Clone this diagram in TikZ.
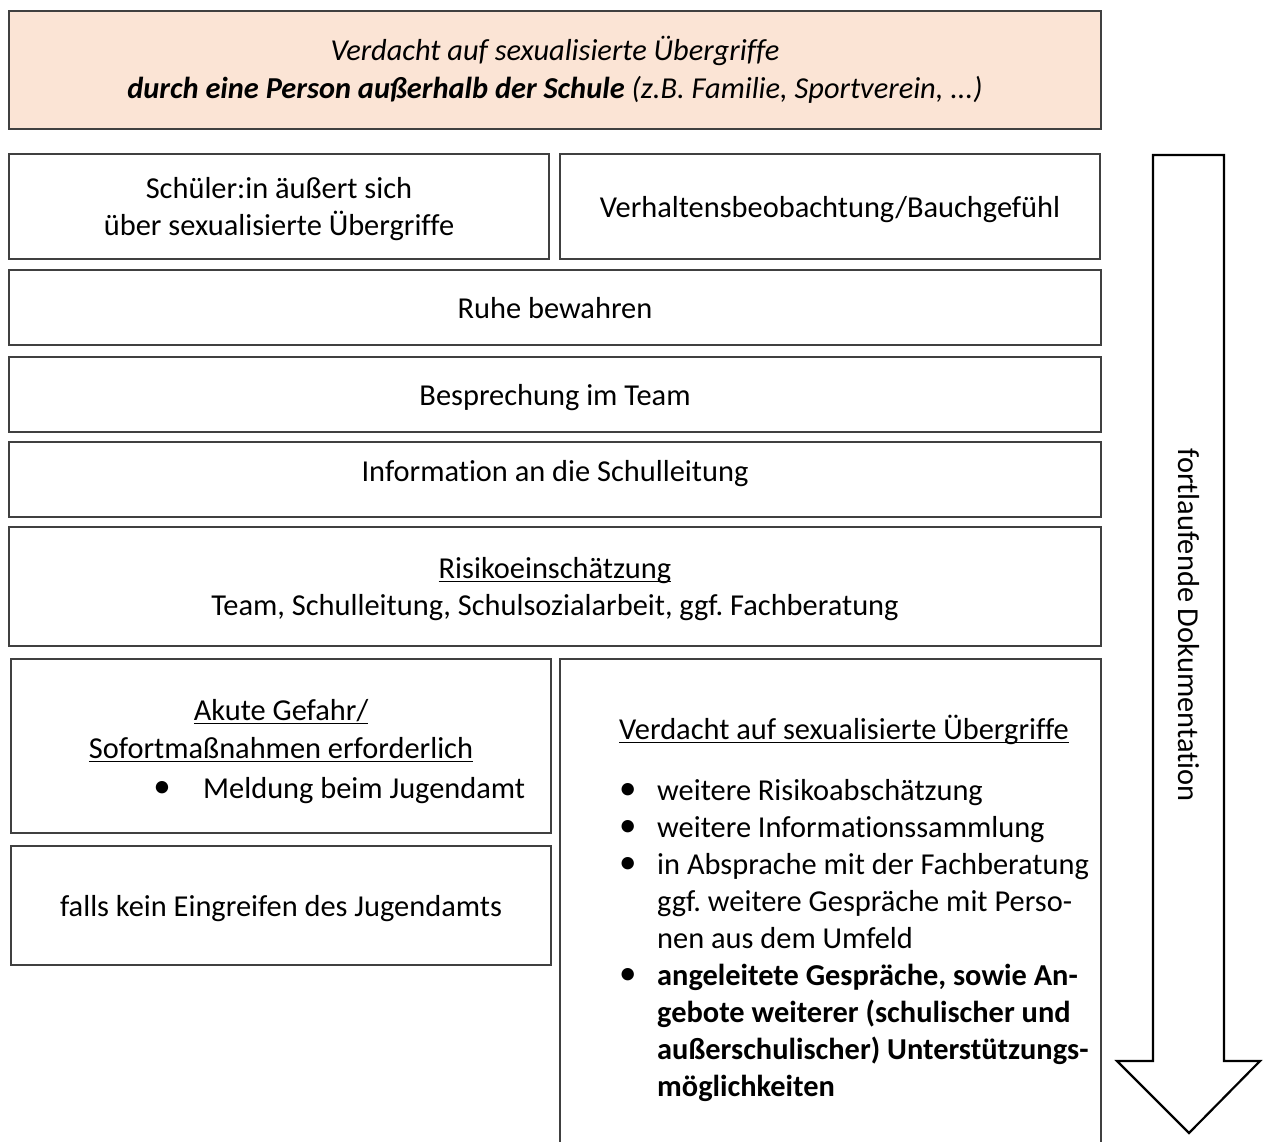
\documentclass[tikz,border=0pt]{standalone}
\usepackage{fontspec}
\setmainfont{Carlito}[Ligatures={NoCommon}]
\definecolor{peach}{HTML}{FBE4D5}
\definecolor{boxline}{HTML}{404040}
\newcommand\myul[1]{\setbox0\hbox{#1}\rlap{\rule[-4pt]{\wd0}{1.5pt}}\box0}
\newcommand\mybul{\raisebox{1pt}{\scalebox{1.15}{\textbullet}}}
\frenchspacing
\tikzset{
  box/.style={draw=boxline, line width=1.3pt, inner sep=0pt, align=center,
    font=\fontsize{30.4}{37}\selectfont},
  txt/.style={inner sep=0pt, font=\fontsize{30.4}{37}\selectfont},
  bigarrow/.style={draw=black, line width=2.2pt, fill=white, line join=miter}
}
\begin{document}
\begin{tikzpicture}[x=1pt,y=-1pt]
\useasboundingbox (0,0) rectangle (1263,1142);
% top box
\node[box, fill=peach, minimum width=1092pt, minimum height=118pt] (top) at (555,70)
  {\itshape Verdacht auf sexualisierte Übergriffe\\[1pt]
   \itshape\textbf{durch eine Person außerhalb der Schule} (z.B. Familie, Sportverein, ...)};
% second row
\node[box, minimum width=540pt, minimum height=105pt] (schueler) at (279,206.5) {};
\node[txt, align=center] (schuelert) at (279,209) {Schüler:in äußert sich\\über sexualisierte Übergriffe};
\node[box, minimum width=540pt, minimum height=105pt] (verhalten) at (830,206.5) {};
\node[txt, anchor=base] (verhaltent) at (830,218) {Verhaltensbeobachtung/Bauchgefühl};
% full-width steps
\node[box, minimum width=1092pt, minimum height=75pt] (ruhe) at (555,307.5) {};
\node[txt, anchor=base] (ruhet) at (555,318) {Ruhe bewahren};
\node[box, minimum width=1092pt, minimum height=75pt] (besp) at (555,394.5) {};
\node[txt, anchor=base] (bespt) at (555,405) {Besprechung im Team};
\node[box, minimum width=1092pt, minimum height=75pt] (info) at (555,479.5) {};
\node[txt, anchor=base] (infot) at (555,481) {Information an die Schulleitung};
\node[box, minimum width=1092pt, minimum height=119pt] (risiko) at (555,586.5) {};
\node[txt, anchor=base] (risiko1) at (555,578) {\myul{Risikoeinschätzung}};
\node[txt, anchor=base] (risiko2) at (555,615) {Team, Schulleitung, Schulsozialarbeit, ggf. Fachberatung};
% left lower boxes
\node[box, minimum width=540pt, minimum height=174pt] (akute) at (281,746) {};
\node[txt, anchor=base] (akute1) at (281,720) {\myul{Akute Gefahr/}};
\node[txt, anchor=base] (akute2) at (281,758) {\myul{Sofortmaßnahmen erforderlich}};
\node[txt, anchor=base] (akuteb) at (162,798) {\mybul};
\node[txt, anchor=base west] (akute3) at (203,798) {Meldung beim Jugendamt};
\node[box, minimum width=540pt, minimum height=119pt] (falls) at (281,905.5) {};
\node[txt, anchor=base] (fallst) at (281,916) {falls kein Eingreifen des Jugendamts};
% right lower box (runs off the bottom)
\draw[draw=boxline, line width=1.3pt] (560,1150) |- (1101,659) -- (1101,1150);
\node[txt, anchor=base west] (vhead) at (619,739) {\myul{Verdacht auf sexualisierte Übergriffe}};
\node[txt, anchor=north west, align=left] (vlist) at (619,774) {%
  \begin{tabular}{@{}p{38pt}@{}l@{}}
  \mybul & weitere Risikoabschätzung\\
  \mybul & weitere Informationssammlung\\
  \mybul & in Absprache mit der Fachberatung\\
         & ggf. weitere Gespräche mit Perso-\\
         & nen aus dem Umfeld\\
  \mybul & \textbf{angeleitete Gespräche, sowie An-}\\
         & \textbf{gebote weiterer (schulischer und}\\
         & \textbf{außerschulischer) Unterstützungs-}\\
         & \textbf{möglichkeiten}
  \end{tabular}};
% big arrow
\draw[bigarrow] (1153,155) -- (1224,155) -- (1224,1061) -- (1260,1061) -- (1189,1133)
  -- (1117,1061) -- (1153,1061) -- cycle;
\node[txt, rotate=-90] (doku) at (1189,625) {fortlaufende Dokumentation};
\end{tikzpicture}
\end{document}
